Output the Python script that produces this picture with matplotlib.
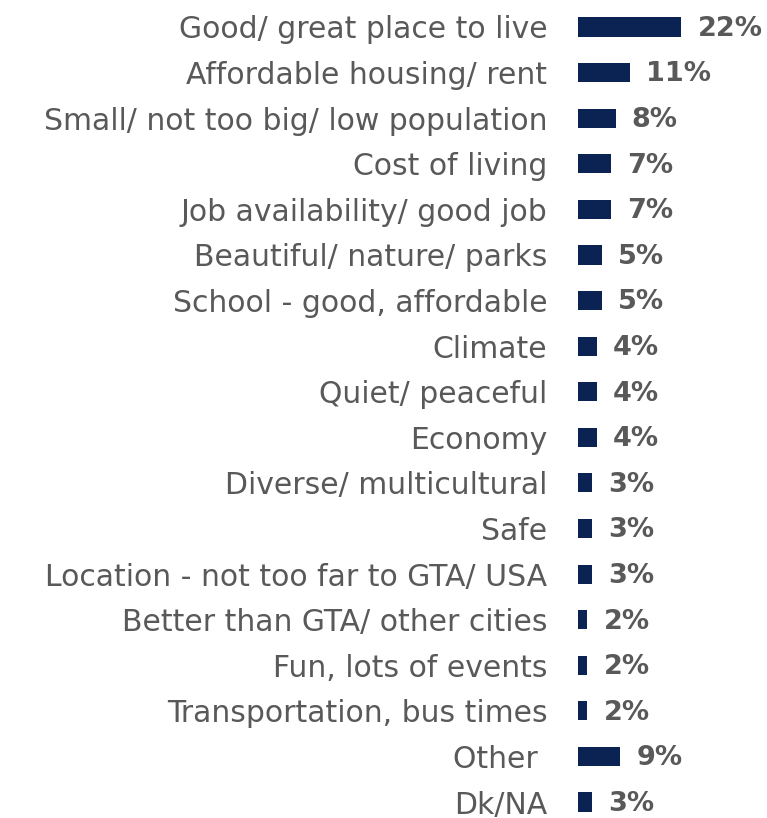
import matplotlib.pyplot as plt

plt.rcParams["font.family"] = ["DejaVu Sans"]

categorias = [
    "Good/ great place to live",
    "Affordable housing/ rent",
    "Small/ not too big/ low population",
    "Cost of living",
    "Job availability/ good job",
    "Beautiful/ nature/ parks",
    "School - good, affordable",
    "Climate",
    "Quiet/ peaceful",
    "Economy",
    "Diverse/ multicultural",
    "Safe",
    "Location - not too far to GTA/ USA",
    "Better than GTA/ other cities",
    "Fun, lots of events",
    "Transportation, bus times",
    "Other ",
    "Dk/NA",
]
porcentajes = [22, 11, 8, 7, 7, 5, 5, 4, 4, 4, 3, 3, 3, 2, 2, 2, 9, 3]

azul = "#0b2352"
gris = "#595959"

fig = plt.figure(figsize=(7.67, 8.18), dpi=100)
ax = fig.add_axes([578 / 767, 0, 189 / 767, 1])

posiciones = list(range(len(categorias)))
ax.barh(posiciones, porcentajes, height=0.42, color=azul)

for y, v in zip(posiciones, porcentajes):
    ax.text(v + 3.4, y + 0.04, f"{v}%", va="center", ha="left",
            fontsize=19.5, fontweight="bold", color=gris)

ax.set_xlim(0, 189 / 4.7)
ax.set_ylim(17.35, -0.592)
ax.set_yticks(posiciones)
ax.set_yticklabels(categorias, fontsize=21.5, color=gris)
ax.tick_params(axis="y", length=0, pad=22)
ax.set_xticks([])
for lado in ax.spines.values():
    lado.set_visible(False)

fig.savefig("out.png", dpi=100)
